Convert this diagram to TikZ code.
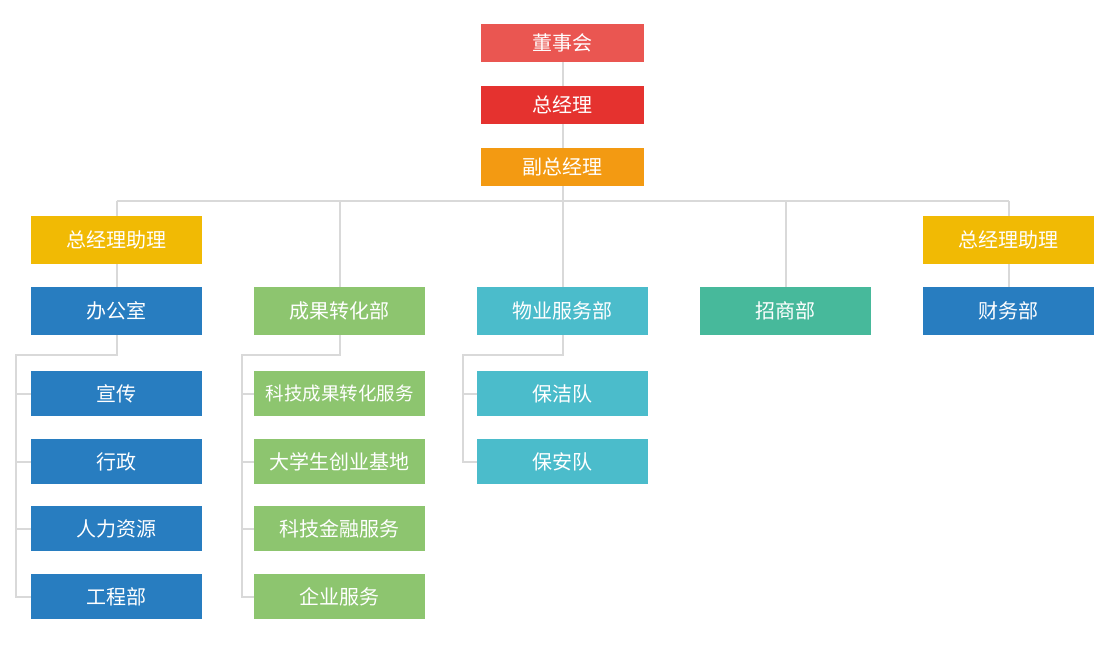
\documentclass[tikz,border=0pt]{standalone}
\usepackage{fontspec}
\newfontfamily\cjk{Noto Sans CJK SC}
\usetikzlibrary{backgrounds}
\definecolor{cdsh}{HTML}{EA5651}
\definecolor{czjl}{HTML}{E5322F}
\definecolor{cfz}{HTML}{F39A12}
\definecolor{cyel}{HTML}{F1BA04}
\definecolor{cblue}{HTML}{287DC0}
\definecolor{cgreen}{HTML}{8DC56F}
\definecolor{ccyan}{HTML}{4BBCCB}
\definecolor{cteal}{HTML}{47B99B}
\definecolor{cline}{HTML}{D9D9D9}
\tikzset{
  box/.style={inner sep=0pt, text=white, font=\cjk\fontsize{20}{22}\selectfont, minimum width=171pt},
  topbox/.style={box, minimum width=163pt, minimum height=38pt},
  midbox/.style={box, minimum height=48pt},
  subbox/.style={box, minimum height=45pt},
  conn/.style={draw=cline, line width=2pt}
}
\begin{document}
\begin{tikzpicture}[x=1pt,y=-1pt]
\useasboundingbox (0,0) rectangle (1111,650);
% top chain
\node[topbox, fill=cdsh] (dsh) at (562.5,43) {董事会};
\node[topbox, fill=czjl] (zjl) at (562.5,105) {总经理};
\node[topbox, fill=cfz] (fz) at (562.5,167) {副总经理};
% level 2
\node[midbox, fill=cyel] (zlL) at (116.5,240) {总经理助理};
\node[midbox, fill=cyel] (zlR) at (1008.5,240) {总经理助理};
% level 3
\node[midbox, fill=cblue] (bgs) at (116.5,311) {办公室};
\node[midbox, fill=cgreen] (cg) at (339.5,311) {成果转化部};
\node[midbox, fill=ccyan] (wy) at (562.5,311) {物业服务部};
\node[midbox, fill=cteal] (zs) at (785.5,311) {招商部};
\node[midbox, fill=cblue] (cw) at (1008.5,311) {财务部};
% office children
\node[subbox, fill=cblue] (xc) at (116.5,393.5) {宣传};
\node[subbox, fill=cblue] (xz) at (116.5,461.5) {行政};
\node[subbox, fill=cblue] (rl) at (116.5,528.5) {人力资源};
\node[subbox, fill=cblue] (gc) at (116.5,596.5) {工程部};
% green children
\node[subbox, fill=cgreen, font=\cjk\fontsize{18.5}{20}\selectfont] (kj) at (339.5,393.5) {科技成果转化服务};
\node[subbox, fill=cgreen] (dx) at (339.5,461.5) {大学生创业基地};
\node[subbox, fill=cgreen] (jr) at (339.5,528.5) {科技金融服务};
\node[subbox, fill=cgreen] (qy) at (339.5,596.5) {企业服务};
% cyan children
\node[subbox, fill=ccyan] (bj) at (562.5,393.5) {保洁队};
\node[subbox, fill=ccyan] (ba) at (562.5,461.5) {保安队};
% connectors
\coordinate (busL) at (116.5,201);
\coordinate (busR) at (1008.5,201);
\coordinate (bL) at (16,354.5);
\coordinate (gL) at (242,354.5);
\coordinate (cL) at (463,354.5);
\begin{scope}[on background layer]
\draw[conn] (dsh) -- (fz);
\draw[conn] (fz.south) -- (fz.south |- busL);
\draw[conn] (busL) -- (busR);
\draw[conn] (busL) -- (bgs);
\draw[conn] (busR) -- (cw);
\draw[conn] (cg.north |- busL) -- (cg.north);
\draw[conn] (zs.north |- busL) -- (zs.north);
\draw[conn] (fz.south |- busL) -- (wy.north);
% office bracket
\draw[conn] (bgs.south) |- (bL) -- (bL |- gc.west) -- (gc.west);
\draw[conn] (bL |- xc.west) -- (xc.west);
\draw[conn] (bL |- xz.west) -- (xz.west);
\draw[conn] (bL |- rl.west) -- (rl.west);
% green bracket
\draw[conn] (cg.south) |- (gL) -- (gL |- qy.west) -- (qy.west);
\draw[conn] (gL |- kj.west) -- (kj.west);
\draw[conn] (gL |- dx.west) -- (dx.west);
\draw[conn] (gL |- jr.west) -- (jr.west);
% cyan bracket
\draw[conn] (wy.south) |- (cL) -- (cL |- ba.west) -- (ba.west);
\draw[conn] (cL |- bj.west) -- (bj.west);
\end{scope}
\end{tikzpicture}
\end{document}
